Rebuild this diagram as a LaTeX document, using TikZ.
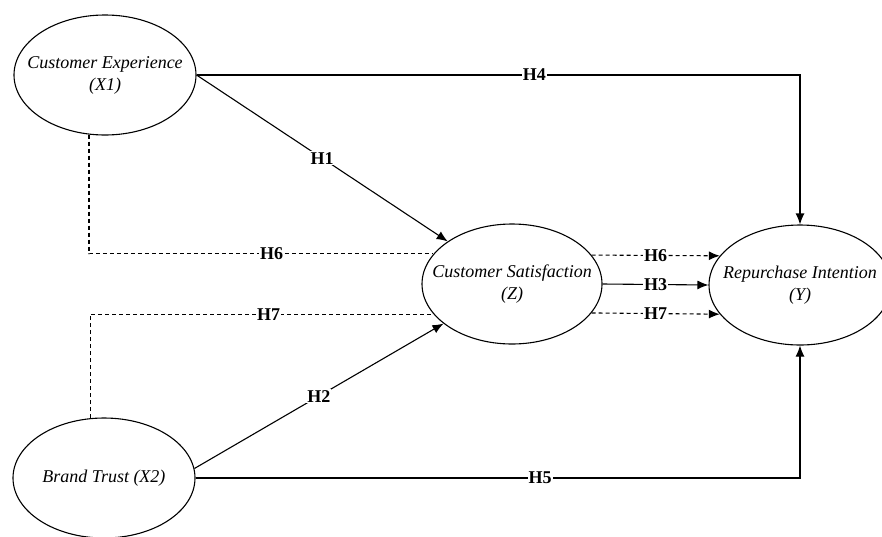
\documentclass[tikz,border=0pt]{standalone}
\usepackage{fontspec}
\setmainfont{Liberation Serif}
\usetikzlibrary{shapes.geometric,arrows.meta}
\tikzset{
  latent/.style={draw, ellipse, line width=1.1pt, minimum width=182pt, minimum height=120pt, inner xsep=-20pt, inner ysep=0pt, align=center, font=\fontsize{18}{22}\selectfont\itshape},
  conn/.style={line width=1.1pt, -{Latex[length=11pt,width=9pt]}},
  dsh/.style={line width=1.1pt, dash pattern=on 4pt off 3pt},
  hlab/.style={fill=white, inner sep=1pt, font=\fontsize{18}{20}\selectfont\bfseries}
}
\begin{document}
\begin{tikzpicture}[x=1pt,y=-1pt]
\useasboundingbox (0,0) rectangle (882,536);
\begin{scope}
\clip (0,0) rectangle (882,536);
\node[latent] (x1) at (105,75) {Customer Experience\\(X1)};
\node[latent] (x2) at (104,478) {Brand Trust (X2)};
\node[latent, minimum width=180pt] (z) at (512,284) {Customer Satisfaction\\(Z)};
\node[latent] (y) at (800,285) {Repurchase Intention\\(Y)};

\draw[conn] (x1.east) -| node[hlab, pos=0.28] {H4} (y.north);
\draw[conn] (x1.east) -- node[hlab, pos=0.5] {H1} (z);
\draw[dsh] (x1.255) |- node[hlab, pos=0.765] {H6} (z.159);
\draw[dsh] (x2.103) |- node[hlab, pos=0.76] {H7} (z.201);
\draw[conn] (x2.6) -- node[hlab, pos=0.5] {H2} (z.210);
\draw[conn] (x2.east) -| node[hlab, pos=0.285] {H5} (y.south);
\draw[conn, dash pattern=on 4pt off 3pt] (z.20) -- node[hlab] {H6} (y.160);
\draw[conn] (z.east) -- node[hlab] {H3} (y.west);
\draw[conn, dash pattern=on 4pt off 3pt] (z.-20) -- node[hlab] {H7} (y.-160);
\end{scope}
\end{tikzpicture}
\end{document}
